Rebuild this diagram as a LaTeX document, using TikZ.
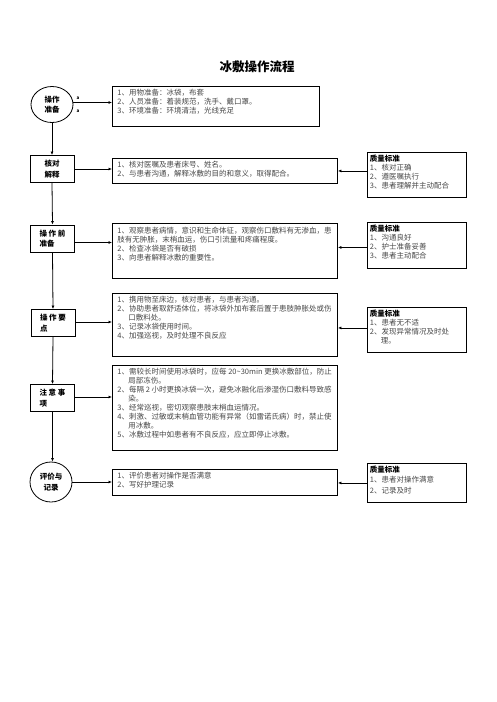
\documentclass[tikz,border=0pt]{standalone}
\usepackage{fontspec}
\setmainfont{Noto Sans CJK SC}
\usetikzlibrary{arrows.meta,calc,shapes.geometric}
\newcommand\boxtxt{\fontsize{7.5}{9}\selectfont\color{black!72}}
\newcommand\qhead{{\color{black}\bfseries 质量标准}}
\begin{document}
\begin{tikzpicture}[x=1pt,y=-1pt,
  mainbox/.style={draw, line width=0.9pt, inner xsep=5pt, inner ysep=3pt, anchor=north west},
  qbox/.style={draw, line width=0.9pt, inner xsep=2.5pt, inner ysep=2.5pt, anchor=north west},
  lab/.style={draw, line width=0.9pt, minimum width=44pt, minimum height=27pt, inner sep=1pt,
              font=\fontsize{7.5}{10.5}\selectfont\bfseries},
  oval/.style={draw, ellipse, line width=0.8pt, inner sep=0pt,
              font=\fontsize{7.5}{10.5}\selectfont\bfseries, align=center},
  conn/.style={line width=0.8pt, -{Latex[length=3.5pt,width=3pt]}},
  tinymark/.style={font=\fontsize{4.5}{5}\selectfont\bfseries, inner sep=0pt}
]
\useasboundingbox (0,0) rectangle (496,702);

% title
\node[font=\fontsize{12.5}{14}\selectfont\bfseries] (title) at (257,67) {冰敷操作流程};

% left column
\node[oval, minimum width=42pt, minimum height=36pt] (c1) at (52,104.5) {操作\\准备};
\node[tinymark] (m1) at (78,98) {a};
\node[tinymark] (m2) at (78,111) {a};
\node[lab, align=center] (l2) at (52,169) {核对\\解释};
\node[lab, align=left] (l3) at (52.5,238.5) {操 作 前\\准备};
\node[lab, align=left] (l4) at (53,323) {操 作 要\\点};
\node[lab, align=left] (l5) at (52.5,398) {注 意 事\\项};
\node[oval, minimum width=42pt, minimum height=40pt] (c2) at (51,482) {评价与\\记录};

% main boxes
\node[mainbox] (b1) at (112,86) {\parbox[c][34pt][t]{197pt}{\boxtxt
1、用物准备：冰袋，布套\\
2、人员准备：着装规范，洗手、戴口罩。\\
3、环境准备：环境清洁，光线充足}};

\node[mainbox] (b2) at (112,158) {\parbox[c][19pt][t]{215pt}{\boxtxt
1、核对医嘱及患者床号、姓名。\\
2、与患者沟通，解释冰敷的目的和意义，取得配合。}};

\node[mainbox, inner ysep=4pt] (b3) at (112,223) {\parbox[c][47pt][t]{215pt}{\boxtxt
1、观察患者病情，意识和生命体征，观察伤口敷料有无渗血，患\\
肢有无肿胀，末梢血运，伤口引流量和疼痛程度。\\
2、检查冰袋是否有破损\\
3、向患者解释冰敷的重要性。}};

\node[mainbox] (b4) at (112,293) {\parbox[c][57pt][t]{215pt}{\boxtxt
1、携用物至床边，核对患者，与患者沟通。\\
2、协助患者取舒适体位，将冰袋外加布套后置于患肢肿胀处或伤\\
\hspace*{11pt}口敷料处。\\
3、记录冰袋使用时间。\\
4、加强巡视，及时处理不良反应}};

\node[mainbox] (b5) at (112,365) {\parbox[c][79pt][t]{215pt}{\boxtxt
1、需较长时间使用冰袋时，应每 20\textasciitilde30min 更换冰敷部位，防止\\
\hspace*{11pt}局部冻伤。\\
2、每隔 2 小时更换冰袋一次，避免冰融化后渗湿伤口敷料导致感\\
\hspace*{11pt}染。\\
3、经常巡视，密切观察患肢末梢血运情况。\\
4、刺激、过敏或末梢血管功能有异常（如雷诺氏病）时，禁止使\\
\hspace*{11pt}用冰敷。\\
5、冰敷过程中如患者有不良反应，应立即停止冰敷。}};

\node[mainbox] (b6) at (112,469) {\parbox[c][20pt][t]{215pt}{\boxtxt
1、评价患者对操作是否满意\\
2、写好护理记录}};

% quality boxes
\node[qbox] (q1) at (367,152) {\parbox[c][40pt][t]{94pt}{\boxtxt
\qhead\\
1、核对正确\\
2、遵医嘱执行\\
3、患者理解并主动配合}};

\node[qbox] (q2) at (367,222) {\parbox[c][41pt][t]{94pt}{\boxtxt
\qhead\\
1、沟通良好\\
2、护士准备妥善\\
3、患者主动配合}};

\node[qbox] (q3) at (367,307) {\parbox[c][40pt][t]{94pt}{\boxtxt
\qhead\\
1、患者无不适\\
2、发现异常情况及时处\\
\hspace*{11pt}理。}};

\node[qbox] (q4) at (367,463) {\parbox[c][34pt][t]{94pt}{\fontsize{7.5}{10.3}\selectfont\color{black!72}
\qhead\\
1、患者对操作满意\\
2、记录及时}};

% vertical connectors
\draw[conn] (c1.south) -- (l2.north);
\draw[conn] (l2.south) -- (l3.north);
\draw[conn] (l3.south) -- (l4.north);
\draw[conn] (l4.south) -- (l5.north);
\draw[conn] (l5.south) -- (l5.south |- c2.north);

% left-to-right connectors
\draw[conn] ($(c1.east)+(0,-2)$) -- ($(c1.east -| b1.west)+(0,-2)$);
\draw[conn] (l2.east) -- (l2.east -| b2.west);
\draw[conn] ($(l3.east)+(0,4)$) -- ($(l3.east -| b3.west)+(0,4)$);
\draw[conn] ($(l4.east)+(0,-1)$) -- ($(l4.east -| b4.west)+(0,-1)$);
\draw[conn] ($(l5.east)+(0,-1)$) -- ($(l5.east -| b5.west)+(0,-1)$);
\draw[conn] (c2.east) -- (c2.east -| b6.west);

% quality-to-main connectors
\draw[conn] ($(q1.west)+(0,-4)$) -- ($(q1.west -| b2.east)+(0,-4)$);
\draw[conn] ($(q2.west)+(0,2)$) -- ($(q2.west -| b3.east)+(0,2)$);
\draw[conn] ($(q3.west)+(0,-2)$) -- ($(q3.west -| b4.east)+(0,-2)$);
\draw[conn] (q4.west) -- (q4.west -| b6.east);
\end{tikzpicture}
\end{document}
